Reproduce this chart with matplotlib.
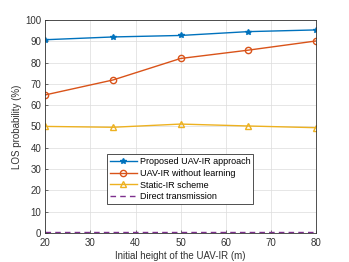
import matplotlib
matplotlib.use('Agg')
import matplotlib.pyplot as plt

# data
heights = [20, 35, 50, 65, 80]
proposed = [90.7, 92.0, 92.7, 94.5, 95.3]
no_learning = [64.8, 71.8, 81.9, 85.8, 90.1]
static_ir = [50.0, 49.6, 51.1, 50.2, 49.4]
direct = [0.3, 0.3, 0.3, 0.3, 0.3]

plt.rcParams['font.family'] = ['Liberation Sans', 'DejaVu Sans']
fig = plt.figure(figsize=(3.49, 2.62), dpi=100)
ax = fig.add_axes([0.130, 0.111, 0.775, 0.813])

ax.plot(heights, proposed, color='#0072BD', marker='*', markersize=4, linewidth=1.0,
        label='Proposed UAV-IR approach')
ax.plot(heights, no_learning, color='#D95319', marker='o', markersize=4.5, markerfacecolor='none',
        linewidth=1.0, label='UAV-IR without learning')
ax.plot(heights, static_ir, color='#EDB120', marker='^', markersize=5, markerfacecolor='none',
        linewidth=1.0, label='Static-IR scheme')
ax.plot(heights, direct, color='#7E2F8E', linestyle=(0, (4, 3)), linewidth=1.0,
        label='Direct transmission')

ax.set_xlim(20, 80)
ax.set_ylim(0, 100)
ax.set_xticks(range(20, 81, 10))
ax.set_yticks(range(0, 101, 10))
ax.grid(True, color='#dcdcdc', linewidth=0.5)
ax.tick_params(labelsize=7, length=2, width=0.5, direction='in', colors='#333333')
ax.tick_params(axis='x', pad=4)
ax.tick_params(axis='y', pad=3)
for s in ax.spines.values():
    s.set_linewidth(0.6)
    s.set_color('#333333')
ax.set_xlabel('Initial height of the UAV-IR (m)', fontsize=7, color='#333333', labelpad=2)
ax.set_ylabel('LOS probability (%)', fontsize=7, color='#333333', labelpad=2)

leg = ax.legend(loc='lower left', bbox_to_anchor=(0.228, 0.136), fontsize=6.5,
                frameon=True, fancybox=False, edgecolor='#333333', framealpha=1,
                handlelength=3, borderpad=0.3, labelspacing=0.3, handletextpad=0.3,
                borderaxespad=0)
leg.get_frame().set_linewidth(0.6)

fig.savefig('out.png', dpi=100)
